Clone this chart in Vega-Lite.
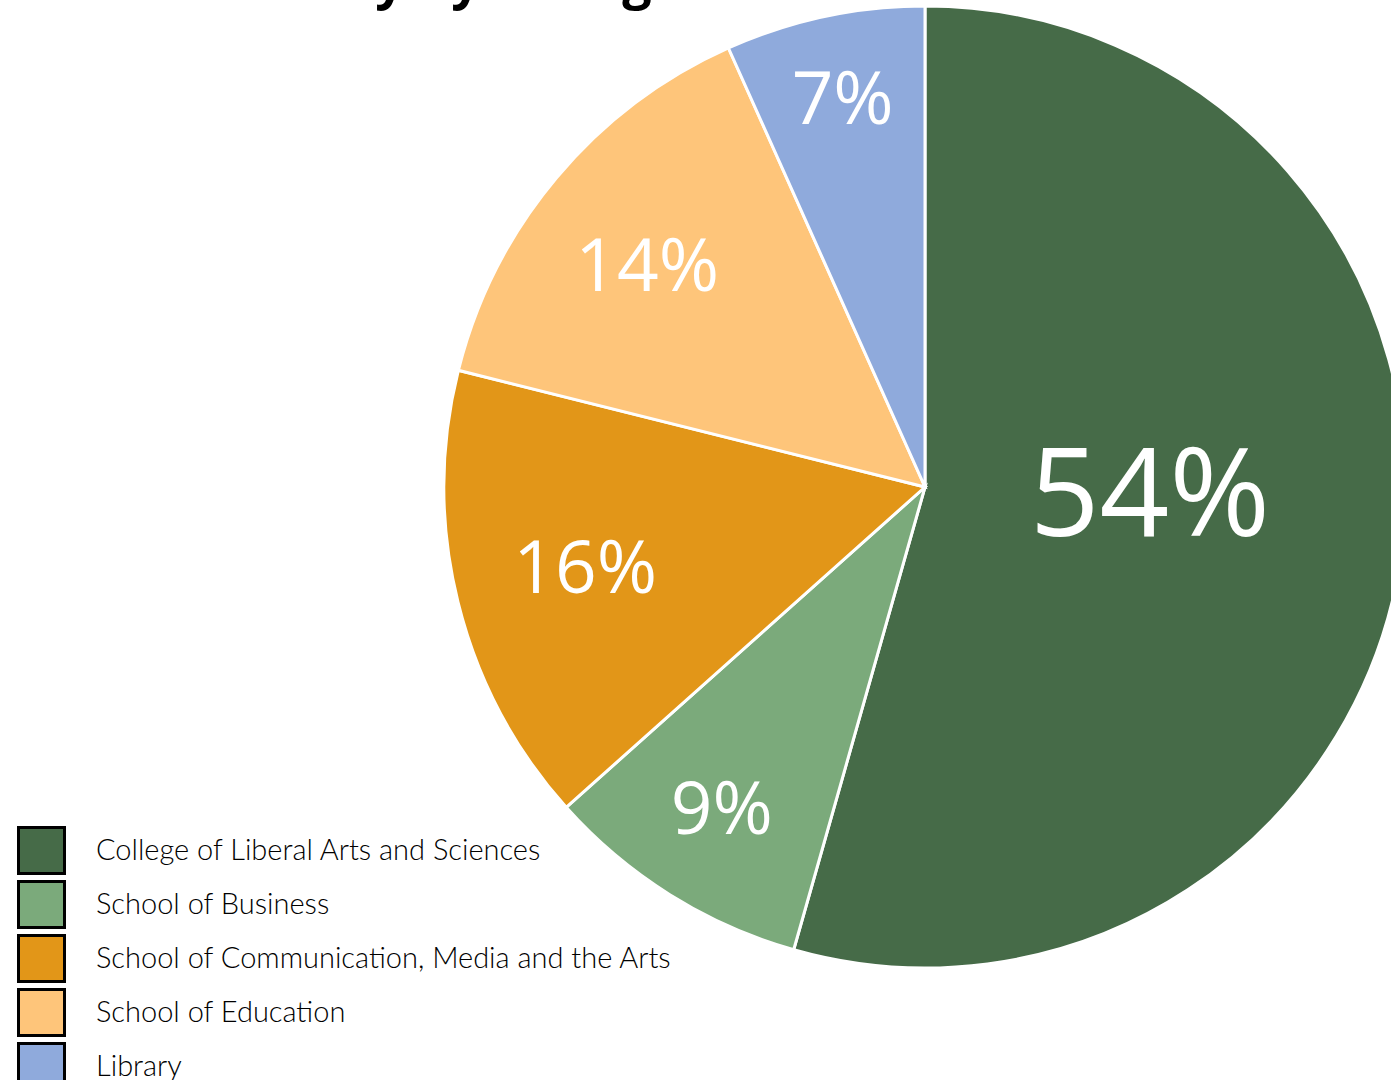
{
  "$schema": "https://vega.github.io/schema/vega-lite/v6.json",
  "width": 930,
  "height": 974,
  "autosize": {"type": "none"},
  "padding": {"left": 460, "top": 0, "right": 1, "bottom": 106},
  "background": "white",
  "title": {"text": "Faculty by College", "anchor": "start", "frame": "group", "fontSize": 52, "font": "Open Sans", "fontWeight": "bold", "color": "black", "offset": -9, "dx": -244},
  "data": {"values": [
    {"unit": "College of Liberal Arts and Sciences", "share": 54.4, "label": "54%", "o": 1},
    {"unit": "School of Business", "share": 9.0, "label": "9%", "o": 2},
    {"unit": "School of Communication, Media and the Arts", "share": 15.5, "label": "16%", "o": 3},
    {"unit": "School of Education", "share": 14.4, "label": "14%", "o": 4},
    {"unit": "Library", "share": 6.7, "label": "7%", "o": 5}
  ]},
  "encoding": {
    "theta": {"field": "share", "type": "quantitative", "stack": true},
    "order": {"field": "o", "type": "quantitative"}
  },
  "layer": [
    {
      "mark": {"type": "arc", "outerRadius": 481, "stroke": "white", "strokeWidth": 3},
      "encoding": {
        "color": {
          "field": "unit", "type": "nominal",
          "sort": ["College of Liberal Arts and Sciences", "School of Business", "School of Communication, Media and the Arts", "School of Education", "Library"],
          "scale": {"domain": ["College of Liberal Arts and Sciences", "School of Business", "School of Communication, Media and the Arts", "School of Education", "Library"], "range": ["#466B48", "#7BAA7B", "#E29618", "#FEC57A", "#8FAADC"]},
          "legend": {
            "title": null, "orient": "none", "legendX": -443, "legendY": 826,
            "symbolType": "square", "symbolSize": 2116, "symbolOpacity": 1,
            "symbolStrokeColor": "black", "symbolStrokeWidth": 3,
            "labelFontSize": 29, "labelFont": "Lato", "labelFontWeight": 300, "labelColor": "black",
            "labelOffset": 30, "rowPadding": -7, "padding": 0, "labelLimit": 0,
            "encode": {"symbols": {"update": {"stroke": {"value": "black"}, "strokeWidth": {"value": 3}, "opacity": {"value": 1}}}}
          }
        }
      }
    },
    {
      "mark": {"type": "text", "radius": 227, "fontSize": 122, "font": "Open Sans", "fontWeight": 500, "fill": "white", "dy": -19},
      "encoding": {"text": {"field": "label", "type": "nominal", "condition": {"test": "datum.o !== 1", "value": ""}}}
    },
    {
      "mark": {"type": "text", "radius": 350, "fontSize": 73, "font": "Open Sans", "fontWeight": 500, "fill": "white"},
      "encoding": {"text": {"field": "label", "type": "nominal", "condition": {"test": "datum.o !== 3", "value": ""}}}
    },
    {
      "mark": {"type": "text", "radius": 352, "fontSize": 73, "font": "Open Sans", "fontWeight": 500, "fill": "white", "dx": -8, "dy": 8},
      "encoding": {"text": {"field": "label", "type": "nominal", "condition": {"test": "datum.o !== 4", "value": ""}}}
    },
    {
      "mark": {"type": "text", "radius": 383, "fontSize": 73, "font": "Open Sans", "fontWeight": 500, "fill": "white"},
      "encoding": {"text": {"field": "label", "type": "nominal", "condition": {"test": "datum.o !== 2", "value": ""}}}
    },
    {
      "mark": {"type": "text", "radius": 394, "fontSize": 73, "font": "Open Sans", "fontWeight": 500, "fill": "white"},
      "encoding": {"text": {"field": "label", "type": "nominal", "condition": {"test": "datum.o !== 5", "value": ""}}}
    }
  ],
  "config": {"view": {"stroke": null}}
}
